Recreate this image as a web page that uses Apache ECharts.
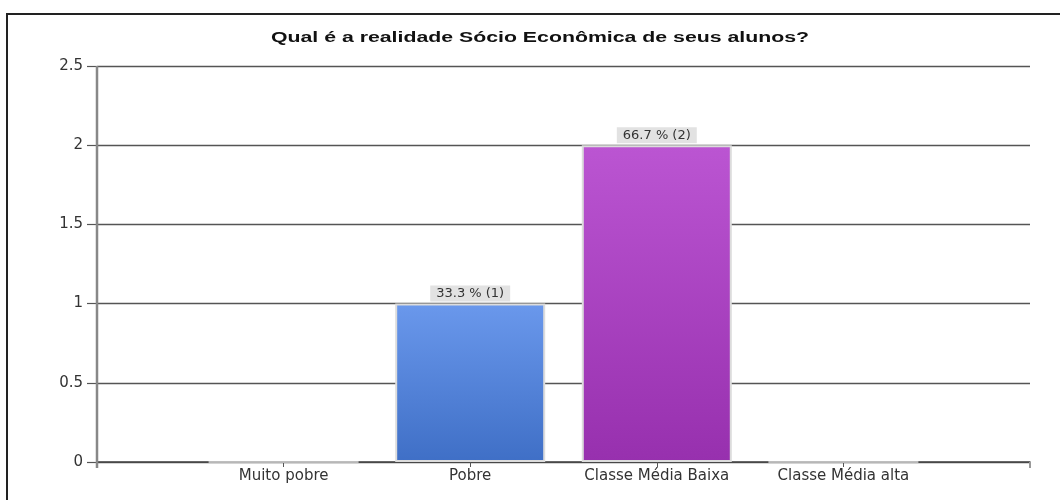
<!DOCTYPE html>
<html><head><meta charset="utf-8">
<script src="https://cdn.jsdelivr.net/npm/echarts@6/dist/echarts.min.js"></script>
<style>html,body{margin:0;padding:0;background:#fff}#c{width:1060px;height:500px}</style>
</head><body><div id="c"></div>
<script>
const titleText = 'Qual é a realidade Sócio Econômica de seus alunos?';
const categories = ['', 'Muito pobre', 'Pobre', 'Classe Média Baixa', 'Classe Média alta', ''];
const counts = [null, 0, 1, 2, 0, null];
const percents = [null, 0, 33.3, 66.7, 0, null];
const yTicks = [0, 0.5, 1, 1.5, 2, 2.5];

const barColors = [
  null,
  ['#e8e8e8', '#e8e8e8'],
  ['#6a98ec', '#3f6fc6'],
  ['#bb55d2', '#9730ae'],
  ['#e8e8e8', '#e8e8e8'],
  null
];

const data = counts.map((v, i) => {
  if (v === null) return null;
  const c = barColors[i];
  return {
    value: v,
    itemStyle: {
      color: new echarts.graphic.LinearGradient(0, 0, 0, 1, [{offset: 0, color: c[0]}, {offset: 1, color: c[1]}]),
      borderColor: '#dcdcdc',
      borderWidth: v === 0 ? 1.5 : 2
    },
    label: { show: v > 0 }
  };
});

const chart = echarts.init(document.getElementById('c'));
chart.setOption({
  animation: false,
  grid: { left: 97, right: 30, top: 66, bottom: 38 },
  xAxis: {
    type: 'category', data: categories, boundaryGap: false,
    axisLine: { lineStyle: { color: '#444', width: 1.5 } },
    axisTick: { show: true, length: 5, interval: 0, lineStyle: { color: '#555' } },
    axisLabel: { color: '#333', fontFamily: 'DejaVu Sans', fontSize: 15, margin: 7,
      interval: 0, hideOverlap: false, showMinLabel: true, showMaxLabel: true },
    splitLine: { show: false }
  },
  yAxis: {
    type: 'value', min: 0, max: 2.5, interval: 0.5,
    axisLine: { show: false },
    axisTick: { show: true, length: 10, lineStyle: { color: '#555', width: 1.2 } },
    axisLabel: { color: '#333', fontFamily: 'DejaVu Sans', fontSize: 15, margin: 14,
      formatter: v => yTicks.includes(v) ? String(v) : '' },
    splitLine: { lineStyle: { color: '#555', width: 1.3 } }
  },
  series: [{
    type: 'bar', data: data, barWidth: 150,
    label: {
      show: true, position: 'top', distance: 2,
      formatter: p => percents[p.dataIndex].toFixed(1) + ' % (' + counts[p.dataIndex] + ')',
      backgroundColor: '#e2e2e2', padding: [2, 6, 1, 6],
      color: '#333', fontFamily: 'DejaVu Sans', fontSize: 13
    }
  }],
  graphic: [
    { type: 'text', x: 540, y: 38, originX: 0, originY: 0, scaleX: 1.52,
      style: { text: titleText, align: 'center', verticalAlign: 'middle',
        font: 'bold 14px "Liberation Sans", Arial', fill: '#111' } },
    { type: 'line', shape: { x1: 6, y1: 14, x2: 1060, y2: 14 }, style: { stroke: '#222', lineWidth: 2 } },
    { type: 'line', shape: { x1: 7, y1: 13, x2: 7, y2: 500 }, style: { stroke: '#222', lineWidth: 2 } },
    { type: 'line', shape: { x1: 97, y1: 66, x2: 97, y2: 468 }, style: { stroke: '#888', lineWidth: 2.5 }, z: 100 },
    { type: 'line', shape: { x1: 1030, y1: 462, x2: 1030, y2: 468 }, style: { stroke: '#999', lineWidth: 2 }, z: 100 }
  ]
});
</script></body></html>
